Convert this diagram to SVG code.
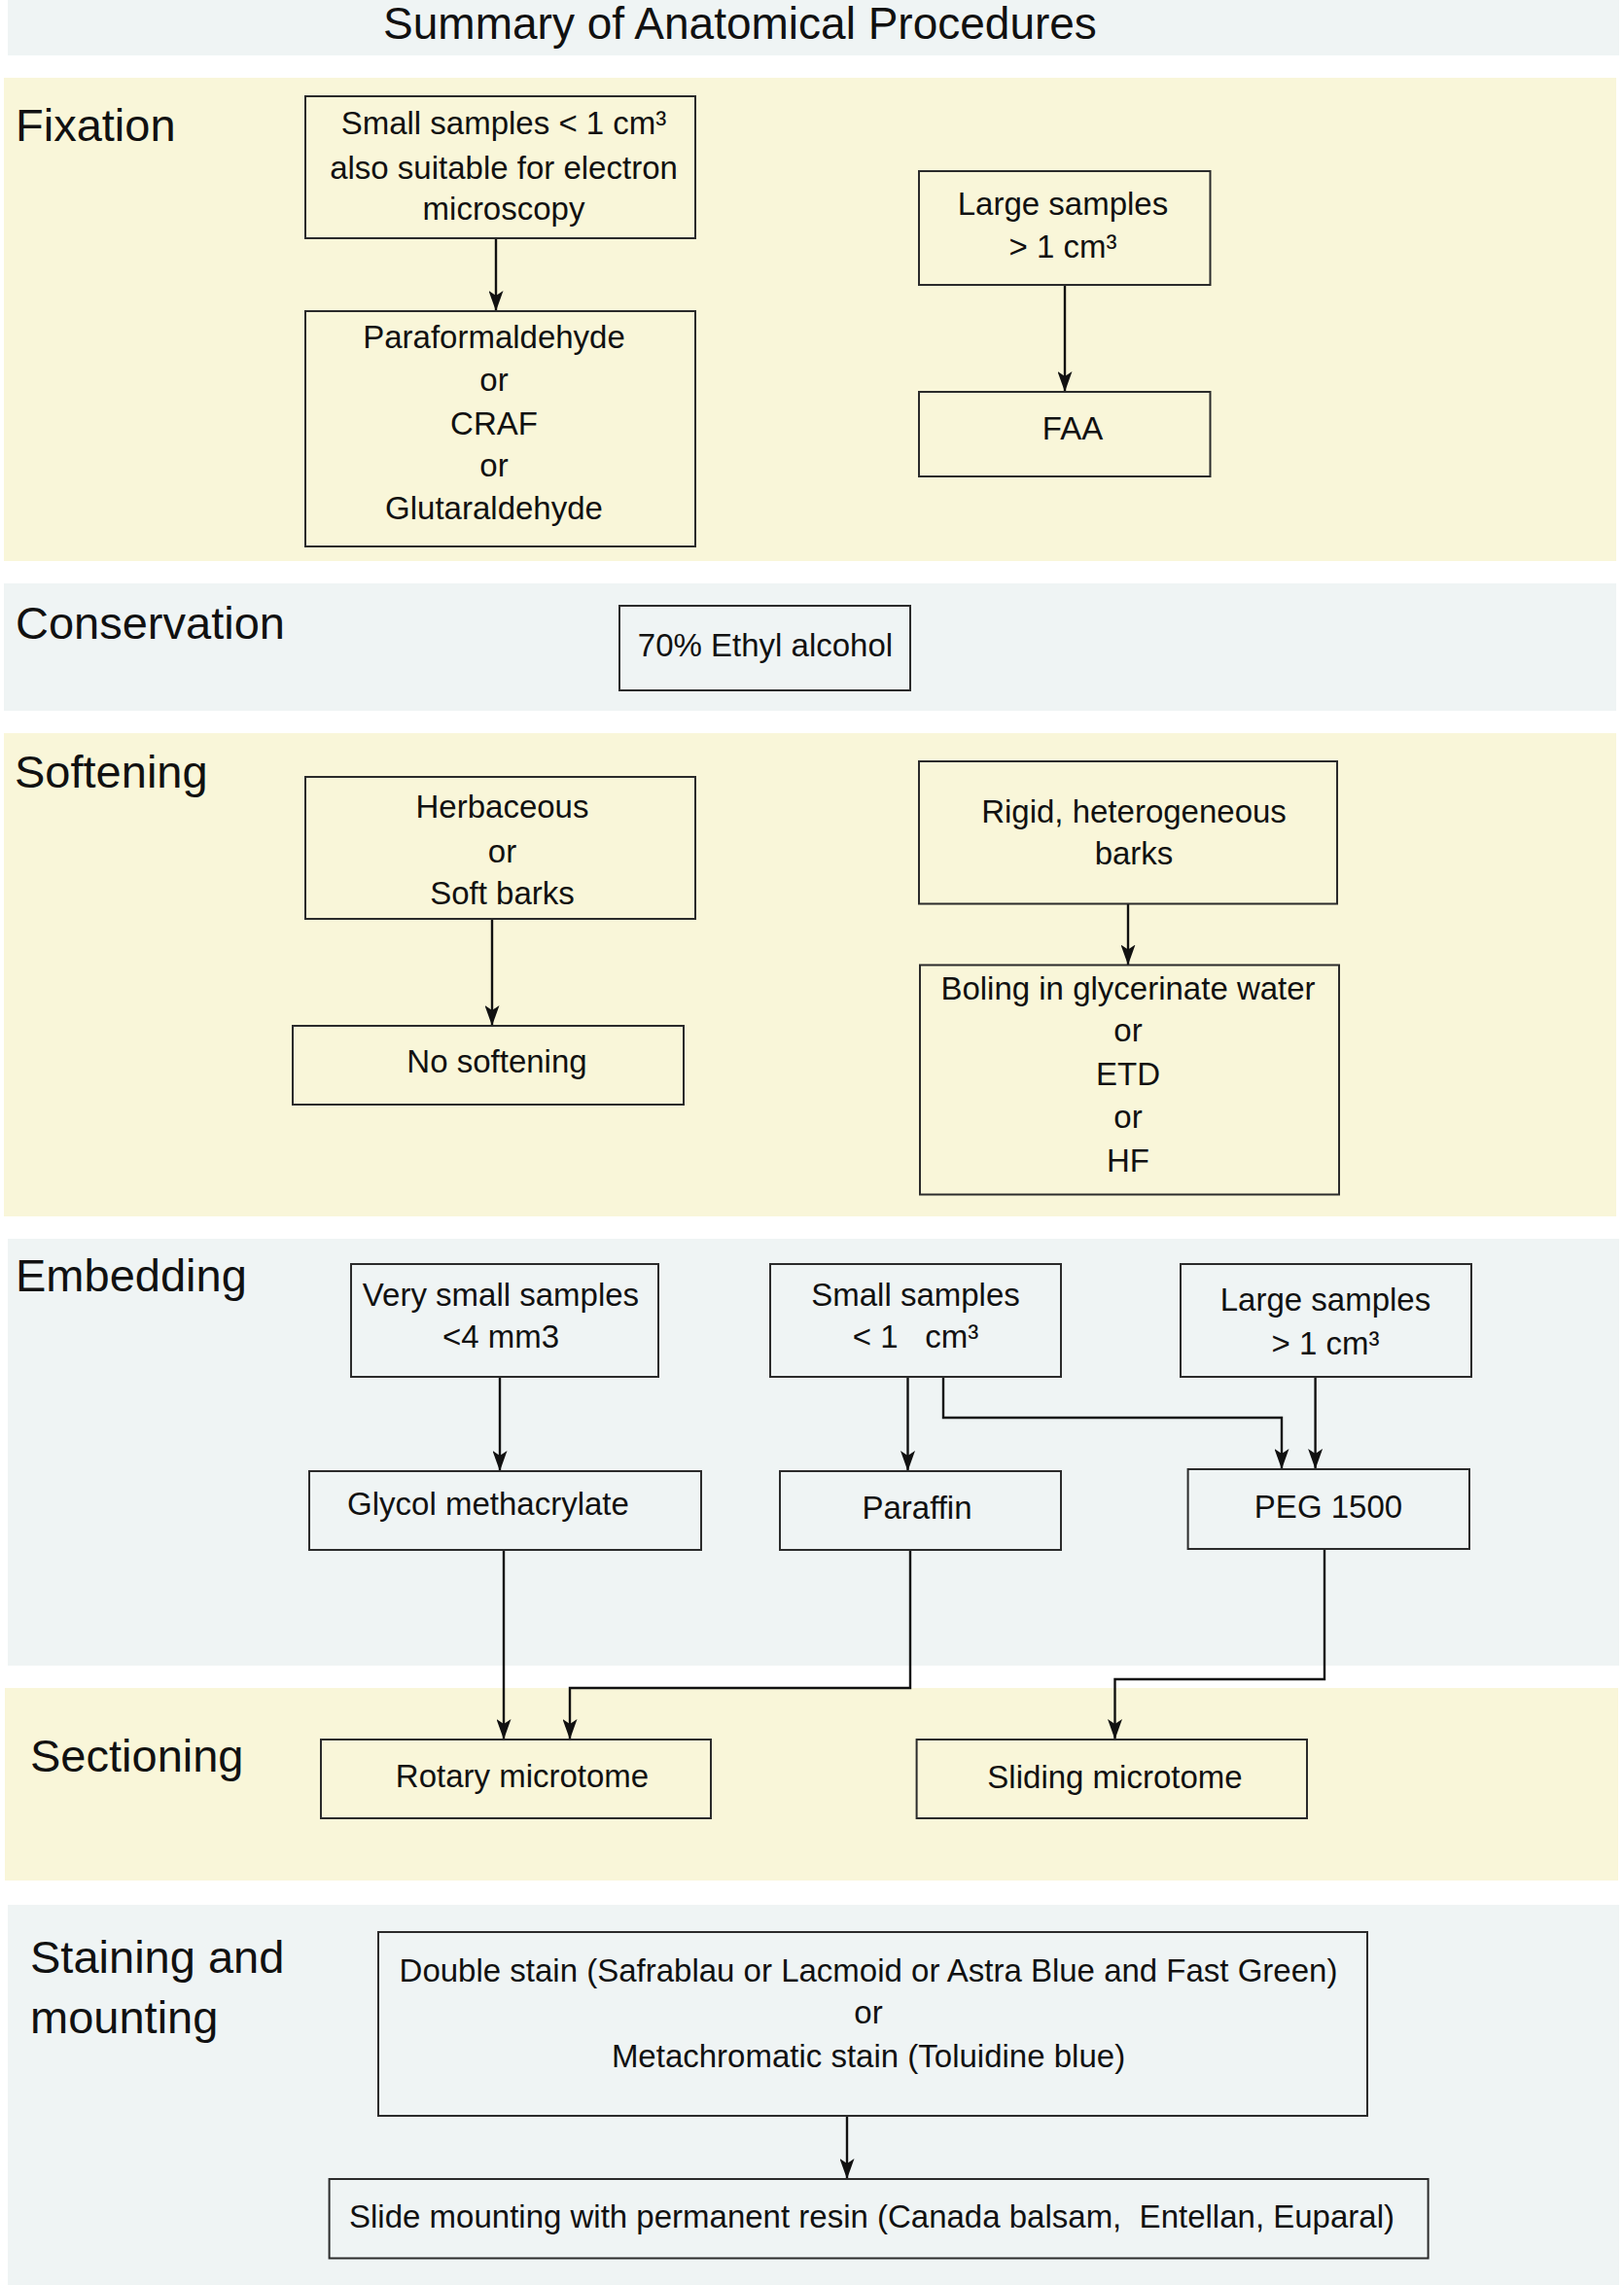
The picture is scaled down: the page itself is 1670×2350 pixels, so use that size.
<svg xmlns="http://www.w3.org/2000/svg" width="1670" height="2350" viewBox="0 0 1670 2350">
<defs>
<style>
.bandY{fill:#f9f6d9}
.bandG{fill:#eff4f4}
.box{fill:none;stroke:#2b2b2b;stroke-width:2}
.t{font-family:"Liberation Sans",Arial,sans-serif;font-size:33px;fill:#111;text-anchor:middle}
.lab{font-family:"Liberation Sans",Arial,sans-serif;font-size:47px;fill:#111}
.title{font-family:"Liberation Sans",Arial,sans-serif;font-size:46px;fill:#111;text-anchor:middle}
.c{fill:none;stroke:#111;stroke-width:2.4}
</style>
<marker id="ah" viewBox="0 0 21 15" refX="21" refY="7.5" markerWidth="21" markerHeight="15" markerUnits="userSpaceOnUse" orient="auto">
<path d="M0,0 L21,7.5 L0,15 L5,7.5 z" fill="#111"/>
</marker>
</defs>
<rect width="1670" height="2350" fill="#ffffff"/>
<g id="bands">
<rect class="bandG" x="8" y="0" width="1657" height="57"/>
<rect class="bandY" x="4" y="80" width="1658" height="497"/>
<rect class="bandG" x="4" y="600" width="1658" height="131"/>
<rect class="bandY" x="4" y="754" width="1658" height="497"/>
<rect class="bandG" x="8" y="1274" width="1657" height="439"/>
<rect class="bandY" x="5" y="1736" width="1659" height="198"/>
<rect class="bandG" x="8" y="1959" width="1657" height="391"/>
</g>
<g id="labels">
<text class="title" x="761" y="40">Summary of Anatomical Procedures</text>
<text class="lab" x="16" y="145">Fixation</text>
<text class="lab" x="16" y="657">Conservation</text>
<text class="lab" x="15" y="810">Softening</text>
<text class="lab" x="16" y="1328">Embedding</text>
<text class="lab" x="31" y="1822">Sectioning</text>
<text class="lab" x="31" y="2029">Staining and</text>
<text class="lab" x="31" y="2091">mounting</text>
</g>
<g id="connectors">
<path class="c" d="M510,245 V320" marker-end="url(#ah)"/>
<path class="c" d="M1095,293 V403" marker-end="url(#ah)"/>
<path class="c" d="M506,945 V1055" marker-end="url(#ah)"/>
<path class="c" d="M1160,929.5 V992.5" marker-end="url(#ah)"/>
<path class="c" d="M514,1416 V1513" marker-end="url(#ah)"/>
<path class="c" d="M933.5,1416 V1513" marker-end="url(#ah)"/>
<path class="c" d="M970,1416 V1458 H1318 V1511" marker-end="url(#ah)"/>
<path class="c" d="M1352.6,1416 V1511" marker-end="url(#ah)"/>
<path class="c" d="M518,1594 V1789" marker-end="url(#ah)"/>
<path class="c" d="M936,1594 V1736 H586 V1789" marker-end="url(#ah)"/>
<path class="c" d="M1362,1593 V1727 H1146.5 V1789" marker-end="url(#ah)"/>
<path class="c" d="M871,2176 V2241" marker-end="url(#ah)"/>
</g>
<g id="n1"><rect class="box" x="314" y="99" width="401" height="146"/>
<text class="t" x="518" y="138">Small samples &lt; 1 cm³</text>
<text class="t" x="518" y="184">also suitable for electron</text>
<text class="t" x="518" y="226">microscopy</text></g>
<g id="n2"><rect class="box" x="314" y="320" width="401" height="242"/>
<text class="t" x="508" y="358">Paraformaldehyde</text>
<text class="t" x="508" y="402">or</text>
<text class="t" x="508" y="447">CRAF</text>
<text class="t" x="508" y="490">or</text>
<text class="t" x="508" y="534">Glutaraldehyde</text></g>
<g id="n3"><rect class="box" x="945" y="176" width="299.5" height="117"/>
<text class="t" x="1093" y="221">Large samples</text>
<text class="t" x="1093" y="265">&gt; 1 cm³</text></g>
<g id="n4"><rect class="box" x="945" y="403" width="299.5" height="87"/>
<text class="t" x="1103" y="452">FAA</text></g>
<g id="n5"><rect class="box" x="637" y="623" width="299" height="87"/>
<text class="t" x="787" y="675">70% Ethyl alcohol</text></g>
<g id="n6"><rect class="box" x="314" y="799" width="401" height="146"/>
<text class="t" x="516.5" y="841">Herbaceous</text>
<text class="t" x="516.5" y="887">or</text>
<text class="t" x="516.5" y="930">Soft barks</text></g>
<g id="n7"><rect class="box" x="301" y="1055" width="402" height="81"/>
<text class="t" x="511" y="1103">No softening</text></g>
<g id="n8"><rect class="box" x="945" y="783" width="430" height="146.5"/>
<text class="t" x="1166" y="846">Rigid, heterogeneous</text>
<text class="t" x="1166" y="889">barks</text></g>
<g id="n9"><rect class="box" x="946" y="992.5" width="431" height="236"/>
<text class="t" x="1160" y="1028">Boling in glycerinate water</text>
<text class="t" x="1160" y="1071">or</text>
<text class="t" x="1160" y="1116">ETD</text>
<text class="t" x="1160" y="1160">or</text>
<text class="t" x="1160" y="1205">HF</text></g>
<g id="n10"><rect class="box" x="361" y="1300" width="316" height="116"/>
<text class="t" x="515" y="1343">Very small samples</text>
<text class="t" x="515" y="1386">&lt;4 mm3</text></g>
<g id="n11"><rect class="box" x="792" y="1300" width="299" height="116"/>
<text class="t" x="941.5" y="1343">Small samples</text>
<text class="t" x="941.5" y="1386" xml:space="preserve">&lt; 1   cm³</text></g>
<g id="n12"><rect class="box" x="1214" y="1300" width="299" height="116"/>
<text class="t" x="1363" y="1348">Large samples</text>
<text class="t" x="1363" y="1393">&gt; 1 cm³</text></g>
<g id="n13"><rect class="box" x="318" y="1513" width="403" height="81"/>
<text class="t" x="502" y="1558">Glycol methacrylate</text></g>
<g id="n14"><rect class="box" x="802" y="1513" width="289" height="81"/>
<text class="t" x="943" y="1562">Paraffin</text></g>
<g id="n15"><rect class="box" x="1221.6" y="1511" width="289.4" height="82"/>
<text class="t" x="1366" y="1561">PEG 1500</text></g>
<g id="n16"><rect class="box" x="330" y="1789" width="401" height="81"/>
<text class="t" x="537" y="1838">Rotary microtome</text></g>
<g id="n17"><rect class="box" x="942.6" y="1789" width="401.4" height="81"/>
<text class="t" x="1146.5" y="1839">Sliding microtome</text></g>
<g id="n18"><rect class="box" x="389" y="1987" width="1017" height="189"/>
<text class="t" x="893" y="2038">Double stain (Safrablau or Lacmoid or Astra Blue and Fast Green)</text>
<text class="t" x="893" y="2081">or</text>
<text class="t" x="893" y="2126">Metachromatic stain (Toluidine blue)</text></g>
<g id="n19"><rect class="box" x="338.6" y="2241" width="1130" height="81.5"/>
<text class="t" x="896.5" y="2291" xml:space="preserve">Slide mounting with permanent resin (Canada balsam,  Entellan, Euparal)</text></g>
</svg>
